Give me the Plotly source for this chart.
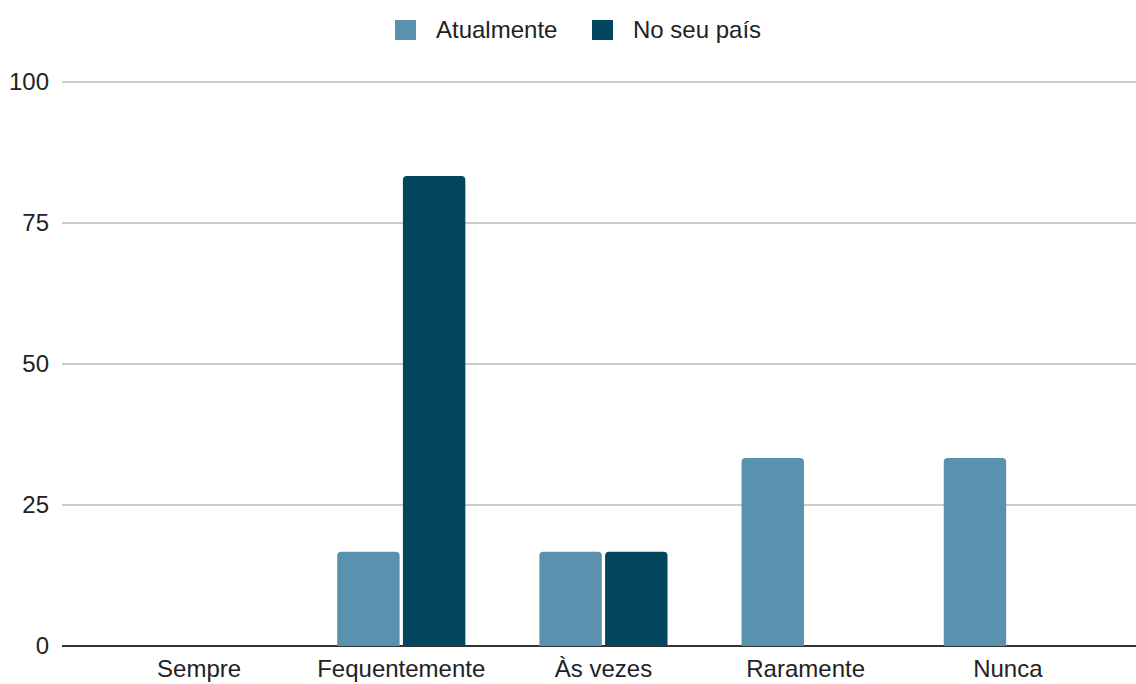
import plotly.graph_objects as go

categories = ["Sempre", "Fequentemente", "Às vezes", "Raramente", "Nunca"]
atualmente = [0, 16.7, 16.7, 33.3, 33.3]
no_seu_pais = [0, 83.3, 16.7, 0, 0]
series_names = ["Atualmente", "No seu país"]
colors = ["#5A91AF", "#02475E"]
y_ticks = [0, 25, 50, 75, 100]

FONT = "Liberation Sans"
FS = 24

fig = go.Figure()
for name, vals, col in zip(series_names, [atualmente, no_seu_pais], colors):
    fig.add_trace(go.Bar(x=categories, y=vals, name=name, marker_color=col,
                         marker_line_width=0, showlegend=False))

# plot area in pixels: x 62..1136, y 76..646 (y range 0..101)
L, R, T, B = 62, 1136, 76, 646
W, H = R - L, B - T

def px(xp):
    return (xp - L) / W

def py(yp):
    return (B - yp) / H

# legend drawn as key squares + labels across the top
shapes = []
annotations = []
legend_items = [(395, 416, 434), (592, 613, 631)]
for (x0, x1, tx), name, col in zip(legend_items, series_names, colors):
    shapes.append(dict(type="rect", xref="paper", yref="paper",
                       x0=px(x0), x1=px(x1), y0=py(40), y1=py(20),
                       fillcolor=col, line_width=0))
    annotations.append(dict(text=name, xref="paper", yref="paper",
                            x=px(tx), y=py(30), xanchor="left", yanchor="middle",
                            showarrow=False, font=dict(family=FONT, size=FS, color="#222222")))

fig.update_layout(
    width=1136, height=684,
    margin=dict(l=L, r=1136 - R, t=T, b=684 - B),
    paper_bgcolor="white", plot_bgcolor="white",
    barmode="group", bargap=0.35, bargroupgap=0.05, barcornerradius=4,
    font=dict(family=FONT, size=FS, color="#222222"),
    shapes=shapes, annotations=annotations,
    xaxis=dict(range=[-0.678, 4.634], showgrid=False, ticks="", showline=False,
               ticklabelstandoff=6,
               tickfont=dict(family=FONT, size=FS, color="#222222")),
    yaxis=dict(range=[0, 101], tickvals=y_ticks, showgrid=True, gridcolor="#CCCCCC",
               gridwidth=1.5, zeroline=True, zerolinecolor="#333333", zerolinewidth=2,
               ticks="", ticklabelstandoff=12, showline=False,
               tickfont=dict(family=FONT, size=FS, color="#222222")),
)

fig.write_html("out.html")
